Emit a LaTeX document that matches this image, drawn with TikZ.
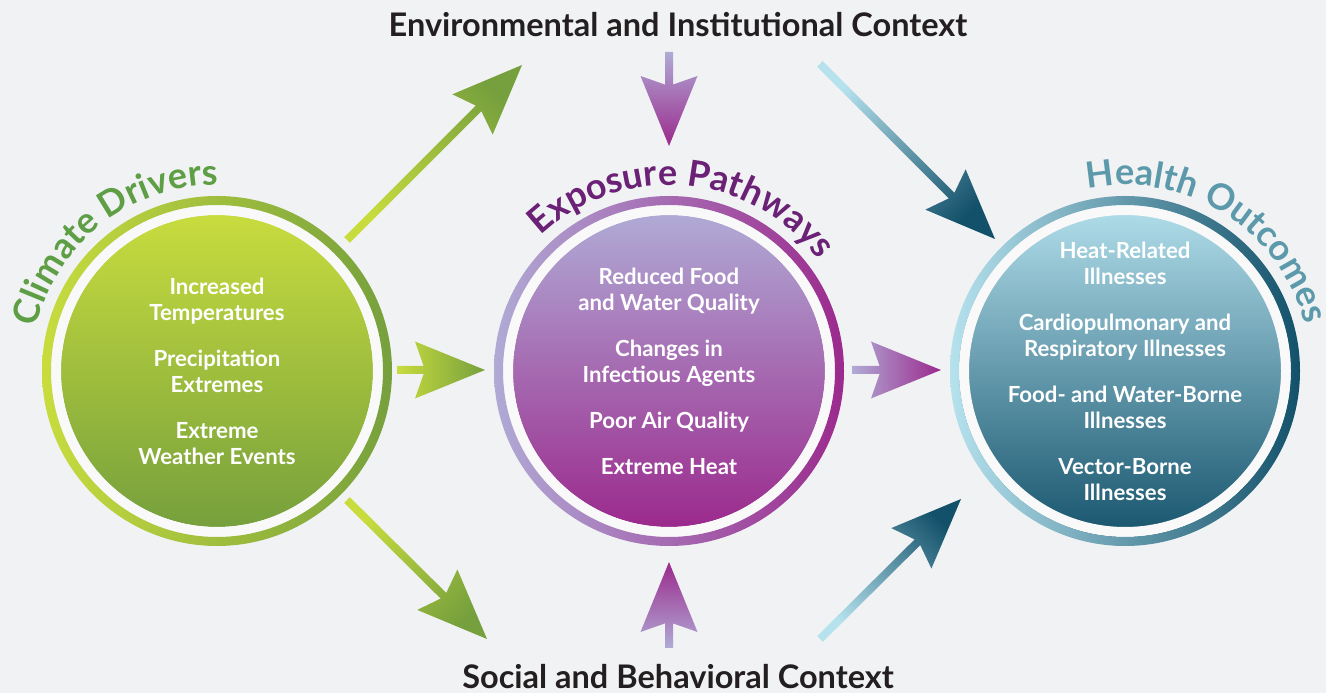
\documentclass[tikz,border=0pt]{standalone}
\usepackage{fontspec}
\setmainfont{Lato}
\usetikzlibrary{calc,decorations.text}

\definecolor{bgGrey}{HTML}{F1F2F4}
\definecolor{ctxText}{HTML}{231F20}
\definecolor{cdLight}{HTML}{C8DC3E}
\definecolor{cdDark}{HTML}{76A03D}
\definecolor{cdTitle}{HTML}{5E9E45}
\definecolor{epLight}{HTML}{B0AAD5}
\definecolor{epDark}{HTML}{9B2A8D}
\definecolor{epTitle}{HTML}{6A2176}
\definecolor{hoLight}{HTML}{B6E2EE}
\definecolor{hoDark}{HTML}{13516A}
\definecolor{hoTitle}{HTML}{5B99AB}

% shaded block arrow between two named coordinates
% #1 tail, #2 tip, #3 tail colour, #4 tip colour
\newcommand{\fatarrow}[4]{%
  \pgfmathanglebetweenpoints{\pgfpointanchor{#1}{center}}{\pgfpointanchor{#2}{center}}%
  \let\arrowang\pgfmathresult
  \shade[bottom color=#3, top color=#4, shading angle=\arrowang-90]
    ($(#1)+(\arrowang-90:4)$) -- ($(#2)+(\arrowang+180:61.4)+(\arrowang-90:4)$)
    -- ($(#2)+(\arrowang+180:70)+(\arrowang-90:28.5)$) -- (#2)
    -- ($(#2)+(\arrowang+180:70)+(\arrowang+90:28.5)$)
    -- ($(#2)+(\arrowang+180:61.4)+(\arrowang+90:4)$)
    -- ($(#1)+(\arrowang+90:4)$) -- cycle;}

\tikzset{
  disc/.style={circle, minimum size=312pt, inner sep=0pt, align=center,
    text=white, font=\bfseries\fontsize{22.2}{26}\selectfont},
  gap/.style={fill=white!55!bgGrey, even odd rule},
  ring/.style={even odd rule},
  context/.style={font=\bfseries\fontsize{32.5}{32.5}\selectfont, text=ctxText},
  titlearc/.style n args={2}{decorate, decoration={text along path,
    text align=center, text color=#1,
    text={|\bfseries\fontsize{36}{36}\selectfont|#2}}},
}

\begin{document}
\begin{tikzpicture}[x=1pt, y=1pt]
  \useasboundingbox[fill=bgGrey] (0,0) rectangle (1326,693);

  % the three stages
  \node[disc, top color=cdLight, bottom color=cdDark] (cd) at (217,322)
    {Increased\\Temperatures\\[20pt]Precipitation\\Extremes\\[20pt]Extreme\\Weather Events};
  \node[disc, top color=epLight, bottom color=epDark] (ep) at (669,322)
    {Reduced Food\\and Water Quality\\[20pt]Changes in\\Infectious Agents\\[20pt]Poor Air Quality\\[20pt]Extreme Heat};
  \node[disc, top color=hoLight, bottom color=hoDark] (ho) at (1125,322)
    {Heat-Related\\Illnesses\\[20pt]Cardiopulmonary and\\Respiratory Illnesses\\[20pt]Food- and Water-Borne\\Illnesses\\[20pt]Vector-Borne\\Illnesses};

  % rings round them
  \path[gap] (cd.center) circle[radius=166] (cd.center) circle[radius=156];
  \path[gap] (ep.center) circle[radius=166] (ep.center) circle[radius=156];
  \path[gap] (ho.center) circle[radius=166] (ho.center) circle[radius=156];
  \shade[ring, left color=cdLight, right color=cdDark]
    (cd.center) circle[radius=175] (cd.center) circle[radius=166];
  \shade[ring, left color=epLight, right color=epDark]
    (ep.center) circle[radius=175] (ep.center) circle[radius=166];
  \shade[ring, left color=hoLight, right color=hoDark]
    (ho.center) circle[radius=175] (ho.center) circle[radius=166];

  % titles bent over the rings
  \path[titlearc={cdTitle}{Climate Drivers}]
    ($(cd.center)+(178:186)$) arc[start angle=178, end angle=78, radius=186];
  \path[titlearc={epTitle}{Exposure Pathways}]
    ($(ep.center)+(145:186)$) arc[start angle=145, end angle=25, radius=186];
  \path[titlearc={hoTitle}{Health Outcomes}]
    ($(ho.center)+(118:186)$) arc[start angle=118, end angle=-2, radius=186];

  % context labels
  \node[context] (env) at (678,668) {Environmental and Institutional Context};
  \node[context] (soc) at (678,16) {Social and Behavioral Context};

  % arrow ends
  \coordinate (a1s) at (347,453);  \coordinate (a1e) at (522,628);
  \coordinate (a2s) at (669,641);  \coordinate (a2e) at (669,547);
  \coordinate (a3s) at (820,629);  \coordinate (a3e) at (995,454);
  \coordinate (a4s) at (397,323);  \coordinate (a4e) at (485,323);
  \coordinate (a5s) at (852,323);  \coordinate (a5e) at (941,323);
  \coordinate (a6s) at (347,193);  \coordinate (a6e) at (487,54);
  \coordinate (a7s) at (669,45);   \coordinate (a7e) at (669,131);
  \coordinate (a8s) at (820,54);   \coordinate (a8e) at (961,194);

  \fatarrow{a1s}{a1e}{cdLight}{cdDark}
  \fatarrow{a4s}{a4e}{cdLight}{cdDark}
  \fatarrow{a6s}{a6e}{cdLight}{cdDark}
  \fatarrow{a2s}{a2e}{epLight}{epDark}
  \fatarrow{a5s}{a5e}{epLight}{epDark}
  \fatarrow{a7s}{a7e}{epLight}{epDark}
  \fatarrow{a3s}{a3e}{hoLight}{hoDark}
  \fatarrow{a8s}{a8e}{hoLight}{hoDark}
\end{tikzpicture}
\end{document}
